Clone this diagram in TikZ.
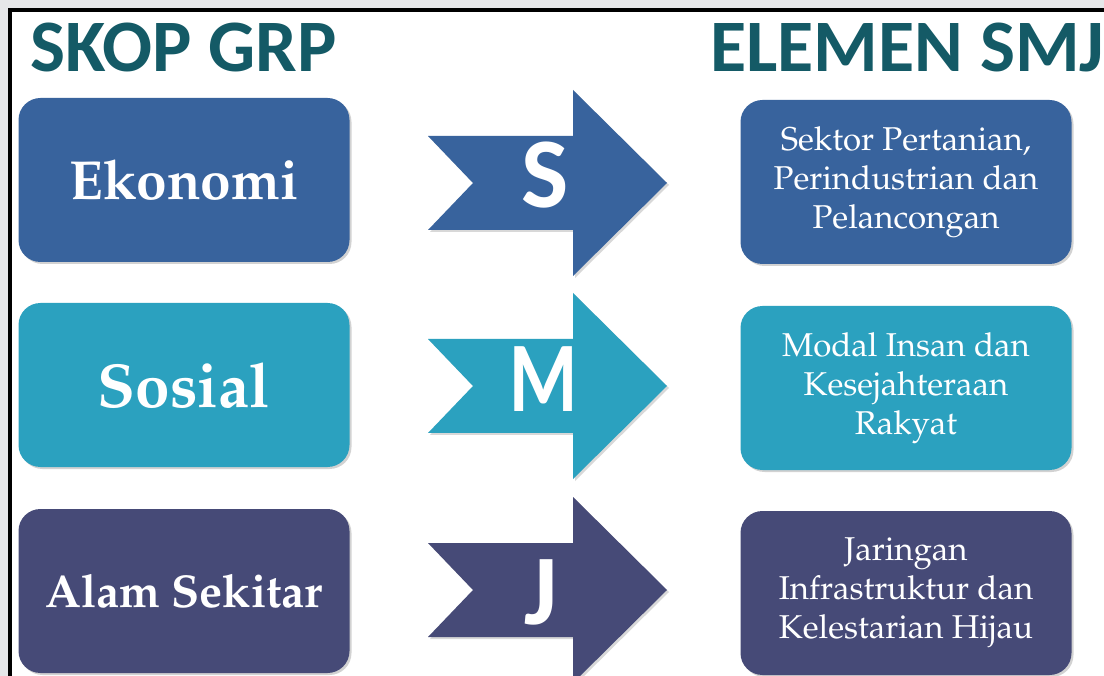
\documentclass[tikz,border=0pt]{standalone}
\usepackage{fontspec}
\usepackage{xcolor}
\usetikzlibrary{shadows}
\newfontfamily\hdfont{Carlito}
\newcommand{\palfont}{\fontencoding{T1}\fontfamily{ppl}\selectfont}
\definecolor{ekoblue}{HTML}{38639D}
\definecolor{sosteal}{HTML}{2BA1BF}
\definecolor{alamslate}{HTML}{464A77}
\definecolor{hdteal}{HTML}{145A66}
\definecolor{framegray}{HTML}{E6E7E9}
\tikzset{
  gbox/.style={rounded corners=22pt, minimum width=331pt, minimum height=164pt,
    inner sep=0pt, text=white, align=center,
    drop shadow={opacity=0.35, shadow xshift=2pt, shadow yshift=-2pt}},
  gname/.style={font=\palfont\bfseries\fontsize{#1}{#1}\selectfont},
  smjtext/.style={font=\palfont\fontsize{33}{39}\selectfont},
  hd/.style={anchor=base west, inner sep=0pt, text=hdteal,
    font=\hdfont\bfseries\fontsize{74}{74}\selectfont},
  letter/.style={anchor=base, inner sep=0pt, text=white,
    font=\hdfont\bfseries\fontsize{100}{100}\selectfont}
}
\newcommand{\smjarrow}[2]{%
  \fill[#1, drop shadow={opacity=0.3, shadow xshift=2pt, shadow yshift=-2pt}]
    (428,#2-47) -- (573,#2-47) -- (573,#2-93) -- (667,#2) -- (573,#2+93)
    -- (573,#2+47) -- (428,#2+47) -- (473,#2) -- cycle;}

\begin{document}
\begin{tikzpicture}[x=1pt, y=-1pt]
    \useasboundingbox (0,0) rectangle (1104,676);
    \fill[framegray] (0,0) rectangle (1104,676);
    \fill[white] (10,10) rectangle (1104,676);
    \draw[line width=4pt] (10,676) -- (10,10) -- (1104,10);

    \node[hd] (skop) at (30,72) {SKOP GRP};
    \node[hd] (elemen) at (710,72) {ELEMEN SMJ};

    \node[gbox, fill=ekoblue, gname=55] (eko) at (184,180) {Ekonomi};
    \node[gbox, fill=sosteal, gname=62] (sos) at (184,385) {Sosial};
    \node[gbox, fill=alamslate, gname=46] (alam) at (184,591) {Alam Sekitar};

    \node[gbox, fill=ekoblue, smjtext] (smj_s) at (906,182) {Sektor Pertanian,\\Perindustrian dan\\Pelancongan};
    \node[gbox, fill=sosteal, smjtext] (smj_m) at (906,388) {Modal Insan dan\\Kesejahteraan\\Rakyat};
    \node[gbox, fill=alamslate, smjtext] (smj_j) at (906,593) {Jaringan\\Infrastruktur dan\\Kelestarian Hijau};

    \smjarrow{ekoblue}{183}
    \smjarrow{sosteal}{386}
    \smjarrow{alamslate}{590}

    \node[letter] (s) at (545,208) {S};
    \node[letter, xscale=0.78] (m) at (544,412) {M};
    \node[letter] (j) at (541,624) {J};
\end{tikzpicture}
\end{document}
